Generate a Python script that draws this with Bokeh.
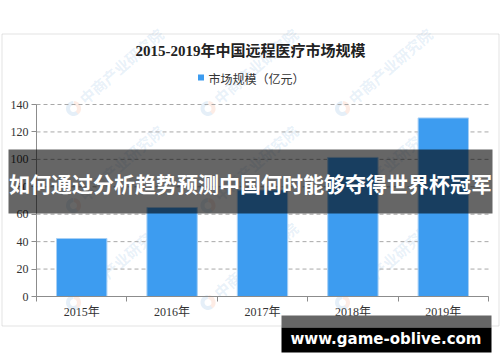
from bokeh.plotting import figure
from bokeh.models import (Range1d, FixedTicker, BoxAnnotation, Label, ColumnDataSource)
from bokeh.embed import file_html
from bokeh.resources import INLINE

# ---- data ----
years = ["2015年", "2016年", "2017年", "2018年", "2019年"]
market_size = [42.3, 64.9, 77.6, 101.4, 130.2]
y_ticks = [0, 20, 40, 60, 80, 100, 120, 140]
title_text = "2015-2019年中国远程医疗市场规模"
series_name = "市场规模（亿元）"
banner_text = "如何通过分析趋势预测中国何时能够夺得世界杯冠军"
site_text = "www.game-oblive.com"
watermark_text = "中商产业研究院"

W, H = 500, 362
# pixel geometry of the plotting area inside the canvas
PX_LEFT, PX_RIGHT = 36.0, 488.0
PX_ZERO, PX_TOP = 296.0, 104.0
n = len(years)
cat_px = (PX_RIGHT - PX_LEFT) / n
unit_px = (PX_ZERO - PX_TOP) / y_ticks[-1]


def dx(px):
    return (px - PX_LEFT) / cat_px - 0.5


def dy(py):
    return (PX_ZERO - py) / unit_px


xs = list(range(n))
src = ColumnDataSource(dict(x=xs, top=market_size, year=years))

SERIF = "'Liberation Serif', 'Noto Sans CJK SC'"
CJK = "'Noto Sans CJK SC'"

p = figure(width=W, height=H, output_backend="svg", toolbar_location=None,
           x_range=Range1d(dx(0), dx(W)), y_range=Range1d(dy(H), dy(0)),
           min_border_left=0, min_border_right=0, min_border_top=0,
           min_border_bottom=0, margin=0,
           styles={"position": "absolute", "left": "0px", "top": "0px"},
           background_fill_color="white", border_fill_color="white",
           outline_line_color=None)
p.title.visible = False

# faint watermark (under everything else)
logo_pos = [(lx, ly) for ly in [108, 205, 302] for lx in [73, 207.5, 342]]
for lx, ly in logo_pos:
    p.add_layout(Label(x=dx(lx + 8), y=dy(ly - 8), text=watermark_text, angle=0.716,
                       text_align="left", text_baseline="middle", text_font=CJK,
                       text_font_size="15px", text_font_style="bold",
                       text_color="#5b9bd5", text_alpha=0.14, level="underlay"))
p.annular_wedge(x=[dx(a) for a, b in logo_pos], y=[dy(b) for a, b in logo_pos],
                inner_radius=3.5, outer_radius=7.5, inner_radius_units="screen",
                outer_radius_units="screen", start_angle=1.6, end_angle=5.4,
                fill_color="#5b9bd5", fill_alpha=0.16, line_alpha=0, level="underlay")
p.annular_wedge(x=[dx(a) for a, b in logo_pos], y=[dy(b) for a, b in logo_pos],
                inner_radius=3.5, outer_radius=7.5, inner_radius_units="screen",
                outer_radius_units="screen", start_angle=-0.9, end_angle=1.5,
                fill_color="#f08a5d", fill_alpha=0.16, line_alpha=0, level="underlay")

# dashed horizontal grid across the plotting area
p.segment(x0=-0.5, x1=n - 0.5, y0=y_ticks, y1=y_ticks, line_color="#a8a8a8",
          line_dash="4 3", line_width=1)

bars = p.vbar(x="x", top="top", width=0.557, source=src,
              fill_color="#3d9cf0", line_color="#a6cff5", line_width=1)

# axes fixed at the plotting area edges
p.xgrid.visible = False
p.ygrid.visible = False

p.xaxis.fixed_location = 0
p.xaxis.bounds = (-0.5, n - 0.5)
p.xaxis.ticker = FixedTicker(ticks=xs, minor_ticks=[i - 0.5 for i in range(n + 1)])
p.xaxis.major_label_overrides = {i: y for i, y in enumerate(years)}
p.xaxis.major_tick_out = 0
p.xaxis.major_tick_in = 0
p.xaxis.minor_tick_out = 5
p.xaxis.minor_tick_in = 0
p.xaxis.minor_tick_line_color = "#8c8c8c"
p.xaxis.axis_line_color = "#8c8c8c"
p.xaxis.major_label_standoff = 3
p.xaxis.major_label_text_font_size = "12px"
p.xaxis.major_label_text_font = SERIF
p.xaxis.major_label_text_color = "#333333"

p.yaxis.fixed_location = -0.5
p.yaxis.bounds = (0, y_ticks[-1])
p.yaxis.ticker = FixedTicker(ticks=y_ticks, minor_ticks=[])
p.yaxis.major_tick_out = 5
p.yaxis.major_tick_in = 0
p.yaxis.minor_tick_out = 0
p.yaxis.minor_tick_in = 0
p.yaxis.major_tick_line_color = "#8c8c8c"
p.yaxis.axis_line_color = "#8c8c8c"
p.yaxis.major_label_standoff = 3
p.yaxis.major_label_text_font_size = "12px"
p.yaxis.major_label_text_font = SERIF
p.yaxis.major_label_text_color = "#333333"

# legend marker + label
p.scatter(x=[dx(200.5)], y=[dy(77)], marker="square", size=6,
          fill_color="#3d9cf0", line_alpha=0)
p.add_layout(Label(x=dx(208), y=dy(77.5), text=series_name, text_align="left",
                   text_baseline="middle", text_font=CJK, text_font_size="12px",
                   text_color="#333333"))

# outer chart border
p.add_layout(BoxAnnotation(left=dx(1.5), right=dx(498.5), top=dy(33.5), bottom=dy(325.5),
                           fill_alpha=0, line_color="#a0a0a0", line_width=1))

# title
p.add_layout(Label(x=dx(250), y=dy(50.5), text=title_text,
                   text_align="center", text_baseline="middle", text_font=SERIF,
                   text_font_size="15px", text_font_style="bold", text_color="#222222"))

# banner overlay
p.add_layout(BoxAnnotation(left=dx(8), right=dx(492), top=dy(149), bottom=dy(213),
                           fill_color="black", fill_alpha=0.6, line_alpha=0,
                           level="overlay"))
p.add_layout(Label(x=dx(250), y=dy(182), text=banner_text,
                   text_align="center", text_baseline="middle", text_font=CJK,
                   text_font_size="21px", text_font_style="bold", text_color="white",
                   level="overlay"))

# site box
p.add_layout(BoxAnnotation(left=dx(281), right=dx(491), top=dy(315), bottom=dy(327),
                           fill_color="#666666", fill_alpha=1, line_alpha=0,
                           level="overlay"))
p.add_layout(BoxAnnotation(left=dx(281), right=dx(491), top=dy(327), bottom=dy(352),
                           fill_color="black", fill_alpha=1, line_alpha=0,
                           level="overlay"))
p.add_layout(Label(x=dx(385.5), y=dy(338), text=site_text,
                   text_align="center", text_baseline="middle",
                   text_font="'DejaVu Sans'", text_font_size="15px",
                   text_font_style="bold", text_color="white", level="overlay"))

open("out.html", "w").write(file_html(p, INLINE))
